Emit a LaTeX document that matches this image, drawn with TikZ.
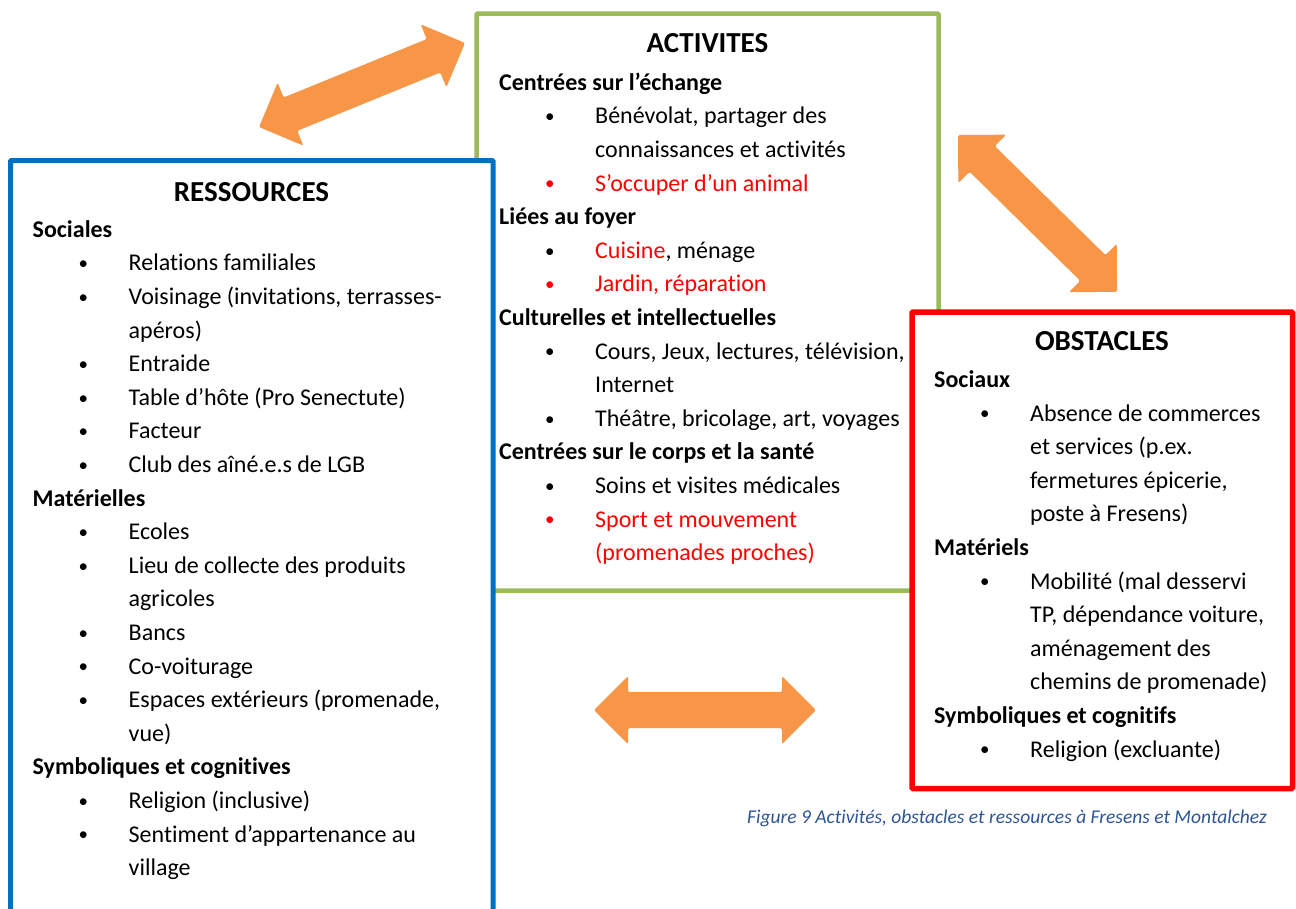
\documentclass[tikz,border=0pt]{standalone}
\usepackage{fontspec}
\setmainfont[Ligatures=NoCommon]{Carlito}
\usetikzlibrary{positioning}

\definecolor{resblue}{HTML}{0070C0}
\definecolor{actgreen}{HTML}{9BBB59}
\definecolor{obsred}{HTML}{FF0000}
\definecolor{linkorange}{HTML}{F79646}
\definecolor{capblue}{HTML}{2E5496}

% bullet lines of the lists
\newcommand{\itm}[2][black]{\makebox[96pt][l]{\hspace*{46pt}\raisebox{1.2pt}{\textcolor{#1}{\fontsize{19}{19}\selectfont\textbullet}}}#2}
\newcommand{\ritm}[1]{\itm[red]{\textcolor{red}{#1}}}
\newcommand{\cnt}[1]{\hspace*{96pt}#1}

\tikzset{
  pics/dblarrow/.style={code={
    \fill[linkorange, rounded corners=1.5pt] (0,0) -- (34,-34) -- (34,-18) -- (#1-34,-18)
      -- (#1-34,-34) -- (#1,0) -- (#1-34,34) -- (#1-34,18) -- (34,18) -- (34,34) -- cycle;
  }}
}

\begin{document}
\begin{tikzpicture}[x=1pt, y=-1pt,
    boxline/.style={line width=5pt, fill=white, rounded corners=1pt},
    titletext/.style={anchor=base, inner sep=0pt, font={\fontsize{29}{34}\selectfont\bfseries}},
    listtext/.style={anchor=north west, inner sep=0pt, align=left, font={\fontsize{24}{33.6}\selectfont}},
    captext/.style={anchor=base west, inner sep=0pt, text=capblue, font={\fontsize{19.5}{24}\selectfont\itshape}}]
    \useasboundingbox (0,0) rectangle (1296,908);

    % Activites (drawn first, the other boxes cover it)
    \draw[boxline, draw=actgreen, line width=4.5pt] (476.5,13.5) rectangle (938.5,590.5);

    % Ressources, open at the bottom
    \filldraw[boxline, draw=resblue] (10.5,912) -- (10.5,160.5) -- (493,160.5) -- (493,912);

    % Obstacles
    \draw[boxline, draw=obsred, line width=5.5pt] (912,312) rectangle (1292.5,788.5);

    % Links between the boxes
    \coordinate (resact) at (259,127);
    \coordinate (actobs) at (958,135);
    \coordinate (resobs) at (594,710);
    \pic[rotate=22.2] at (resact) {dblarrow=222.5};
    \pic[rotate=-44.6] at (actobs) {dblarrow=223.4};
    \pic at (resobs) {dblarrow=222};

    % Titles
    \node[titletext] (restitle) at (251.5,201) {RESSOURCES};
    \node[titletext] (acttitle) at (707.5,52) {ACTIVITES};
    \node[titletext] (obstitle) at (1102,350) {OBSTACLES};

    % Lists
    \node[listtext] (reslist) at (32.5,213.5) {\strut\textbf{Sociales}\\
      \itm{Relations familiales}\\
      \itm{Voisinage (invitations, terrasses-}\\
      \cnt{apéros)}\\
      \itm{Entraide}\\
      \itm{Table d’hôte (Pro Senectute)}\\
      \itm{Facteur}\\
      \itm{Club des aîné.e.s de LGB}\\
      \textbf{Matérielles}\\
      \itm{Ecoles}\\
      \itm{Lieu de collecte des produits}\\
      \cnt{agricoles}\\
      \itm{Bancs}\\
      \itm{Co-voiturage}\\
      \itm{Espaces extérieurs (promenade,}\\
      \cnt{vue)}\\
      \textbf{Symboliques et cognitives}\\
      \itm{Religion (inclusive)}\\
      \itm{Sentiment d’appartenance au}\\
      \cnt{village}};

    \node[listtext] (actlist) at (499,66.5) {\strut\textbf{Centrées sur l’échange}\\
      \itm{Bénévolat, partager des}\\
      \cnt{connaissances et activités}\\
      \ritm{S’occuper d’un animal}\\
      \textbf{Liées au foyer}\\
      \itm{\textcolor{red}{Cuisine}, ménage}\\
      \ritm{Jardin, réparation}\\
      \textbf{Culturelles et intellectuelles}\\
      \itm{Cours, Jeux, lectures, télévision,}\\
      \cnt{Internet}\\
      \itm{Théâtre, bricolage, art, voyages}\\
      \textbf{Centrées sur le corps et la santé}\\
      \itm{Soins et visites médicales}\\
      \ritm{Sport et mouvement}\\
      \cnt{\textcolor{red}{(promenades proches)}}};

    \node[listtext] (obslist) at (934,363.8) {\strut\textbf{Sociaux}\\
      \itm{Absence de commerces}\\
      \cnt{et services (p.ex.}\\
      \cnt{fermetures épicerie,}\\
      \cnt{poste à Fresens)}\\
      \textbf{Matériels}\\
      \itm{Mobilité (mal desservi}\\
      \cnt{TP, dépendance voiture,}\\
      \cnt{aménagement des}\\
      \cnt{chemins de promenade)}\\
      \textbf{Symboliques et cognitifs}\\
      \itm{Religion (excluante)}};

    % Caption
    \node[captext] (caption) at (747,823) {Figure 9 Activités, obstacles et ressources à Fresens et Montalchez};
\end{tikzpicture}
\end{document}
